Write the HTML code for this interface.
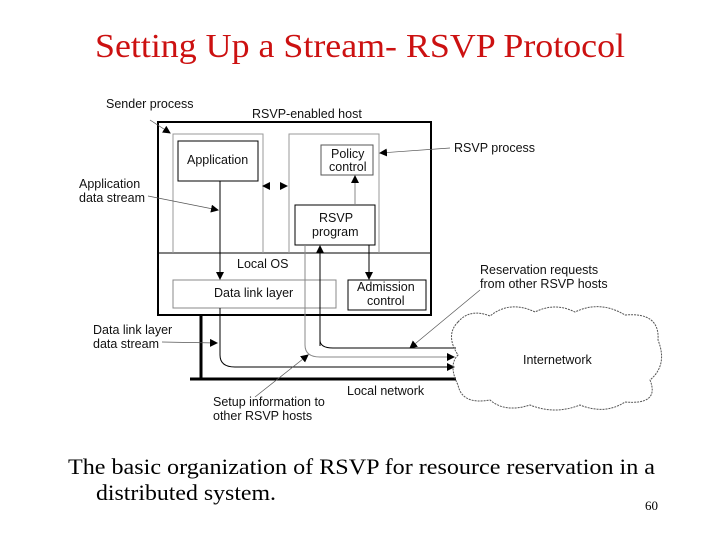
<!DOCTYPE html>
<html><head><style>body{margin:0;background:#fff}svg{display:block}</style></head><body>
<svg width="720" height="540" xmlns="http://www.w3.org/2000/svg" font-family="Liberation Sans, sans-serif">
<defs><marker id="a" markerWidth="8" markerHeight="8" refX="7" refY="4" orient="auto" markerUnits="userSpaceOnUse"><path d="M0,0L8,4L0,8z" fill="#000"/></marker></defs>
<text x="95" y="57" font-family="Liberation Serif, serif" font-size="34" fill="#cc1111" textLength="530" lengthAdjust="spacingAndGlyphs">Setting Up a Stream- RSVP Protocol</text>
<g fill="none">
<rect x="158" y="122" width="273" height="193" stroke="#000" stroke-width="2"/>
<line x1="158" y1="253" x2="431" y2="253" stroke="#000"/>
<path d="M173,253V134H263V253" stroke="#999"/>
<path d="M289,253V134H379V253" stroke="#999"/>
<rect x="178" y="141" width="80" height="40" stroke="#000"/>
<rect x="321" y="145" width="52" height="30" stroke="#555"/>
<rect x="295" y="205" width="80" height="40" stroke="#000"/>
<rect x="173" y="280" width="163" height="28" stroke="#888"/>
<rect x="348" y="280" width="78" height="30" stroke="#000"/>
<line x1="201" y1="315" x2="201" y2="380" stroke="#000" stroke-width="3"/>
<line x1="190" y1="379" x2="456" y2="379" stroke="#000" stroke-width="3"/>
<line x1="220" y1="181" x2="220" y2="279" stroke="#000" marker-end="url(#a)"/>
<line x1="355" y1="204" x2="355" y2="176" stroke="#888" marker-end="url(#a)"/>
<line x1="369" y1="245" x2="369" y2="279" stroke="#000" marker-end="url(#a)"/>
<path d="M220,308V355Q220,367 235,367H454" stroke="#000" marker-end="url(#a)"/>
<path d="M305,245V345Q305,357 320,357H454" stroke="#888" marker-end="url(#a)"/>
<path d="M320,346V246" stroke="#000" marker-end="url(#a)"/>
<path d="M320,340Q320,348 333,348H456" stroke="#000"/>
<line x1="270" y1="186" x2="263" y2="186" stroke="#000" marker-end="url(#a)"/>
<line x1="280" y1="186" x2="287" y2="186" stroke="#000" marker-end="url(#a)"/>
<g stroke="#555" stroke-width="0.7">
<line x1="150" y1="120" x2="170" y2="133" marker-end="url(#a)"/>
<line x1="148" y1="196" x2="218" y2="210" marker-end="url(#a)"/>
<line x1="450" y1="148" x2="380" y2="153" marker-end="url(#a)"/>
<line x1="480" y1="290" x2="410" y2="348" marker-end="url(#a)"/>
<line x1="162" y1="342" x2="217" y2="343" marker-end="url(#a)"/>
<line x1="255" y1="397" x2="308" y2="355" marker-end="url(#a)"/>
</g>
<path d="M458,322Q470,308 490,316Q510,300 535,312Q555,302 575,312Q600,300 625,315Q660,312 658,340Q668,365 650,380Q660,405 625,402Q605,415 580,405Q555,415 530,405Q505,413 490,400Q462,405 458,385Q448,365 458,355Q445,335 458,322z" stroke="#555" stroke-dasharray="2,1"/>
</g>
<g font-size="12.5" fill="#111">
<text x="106" y="108">Sender process</text>
<text x="252" y="118">RSVP-enabled host</text>
<text x="187" y="164">Application</text>
<text x="331" y="158">Policy</text><text x="329" y="171">control</text>
<text x="319" y="222">RSVP</text><text x="312" y="236">program</text>
<text x="79" y="188">Application</text><text x="79" y="202">data stream</text>
<text x="454" y="152">RSVP process</text>
<text x="237" y="268">Local OS</text>
<text x="214" y="297">Data link layer</text>
<text x="357" y="291">Admission</text><text x="367" y="305">control</text>
<text x="480" y="274">Reservation requests</text><text x="480" y="288">from other RSVP hosts</text>
<text x="93" y="334">Data link layer</text><text x="93" y="348">data stream</text>
<text x="523" y="364">Internetwork</text>
<text x="347" y="395">Local network</text>
<text x="213" y="406">Setup information to</text><text x="213" y="420">other RSVP hosts</text>
</g>
<g font-family="Liberation Serif, serif" fill="#000">
<text x="68" y="474" font-size="22" textLength="587" lengthAdjust="spacingAndGlyphs">The basic organization of RSVP for resource reservation in a</text>
<text x="96" y="500" font-size="22" textLength="180" lengthAdjust="spacingAndGlyphs">distributed system.</text>
<text x="645" y="510" font-size="13">60</text>
</g>
</svg>
</body></html>
